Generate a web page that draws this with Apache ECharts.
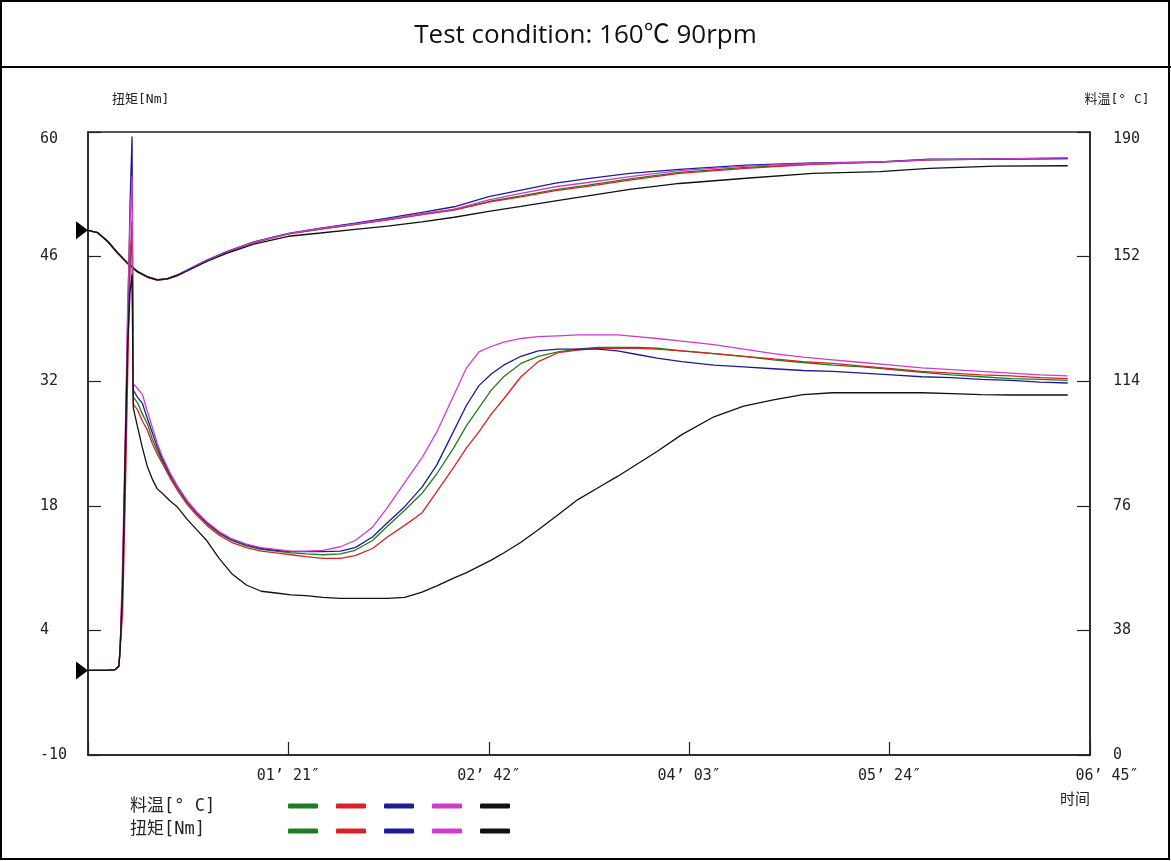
<!DOCTYPE html>
<html><head><meta charset="utf-8">
<script src="https://cdn.jsdelivr.net/npm/echarts@6/dist/echarts.min.js"></script>
<style>html,body{margin:0;padding:0;background:#fff}#c{width:1171px;height:861px}</style>
</head><body><div id="c"></div><script>
// ---------- data ----------
const timeLabels = ['', '01’ 21″', '02’ 42″', '04’ 03″', '05’ 24″', '06’ 45″'];
const torqueTicks = [-10, 4, 18, 32, 46, 60];
const tempTicks = [0, 38, 76, 114, 152, 190];

// torque sampling times (s)
const tTorque = [0, 8, 11, 12.5, 13, 14, 15, 16, 17, 17.8, 18.3, 18.8, 20, 22, 24, 26, 28, 30, 33, 36, 40, 44, 48, 53, 58, 64, 70, 76, 82, 88, 95, 102, 108, 115, 121, 128, 135, 141, 148, 153, 158, 163, 168, 175, 182, 190, 198, 206, 214, 222, 230, 240, 253, 265, 277, 289, 301, 313, 325, 337, 349, 361, 373, 385, 396];
const torqueGreen = [-0.5,-0.5,-0.4,0.0,2.0, 8,20,35,45,48, 30.2,30.0,29.6,28.3,27.2, 25.5,24.2,23.0,21.4,20.0, 18.4,17.1,16.0,14.9,14.1, 13.5,13.1,12.9,12.7,12.6, 12.5,12.6,13.0,14.1,15.7, 17.5,19.4,21.6,24.6,27.0, 29.0,31.0,32.5,34.0,34.8, 35.3,35.6,35.8,35.8,35.8, 35.7,35.4,35.1,34.8,34.4, 34.1,33.8,33.6,33.3,33.0, 32.7,32.5,32.3,32.2,32.1];
const torqueRed = [-0.5,-0.5,-0.4,0.0,2.0, 6,18,32,46,50, 29.5,29.2,28.8,27.5,26.5, 25.0,23.8,22.8,21.2,19.8, 18.2,16.9,15.8,14.7,13.9, 13.3,12.9,12.7,12.5,12.3, 12.1,12.1,12.4,13.2,14.5, 15.8,17.2,19.6,22.4,24.5, 26.3,28.3,30.0,32.5,34.2, 35.2,35.5,35.7,35.7,35.7, 35.6,35.4,35.1,34.8,34.5, 34.2,34.0,33.7,33.4,33.1, 32.9,32.7,32.6,32.4,32.3];
const torqueBlue = [-0.5,-0.5,-0.4,0.0,2.0, 10,22,38,52,59.5, 31.0,30.8,30.2,29.5,27.8, 26.2,24.6,23.3,21.6,20.2, 18.5,17.2,16.1,15.0,14.2, 13.6,13.2,13.0,12.85,12.85, 12.85,12.9,13.3,14.5,16.1, 17.9,20.1,22.6,26.5,29.3, 31.5,32.8,33.8,34.8,35.4, 35.6,35.6,35.6,35.4,35.0, 34.6,34.2,33.8,33.6,33.4, 33.2,33.1,32.9,32.7,32.5, 32.4,32.2,32.1,31.9,31.8];
const torqueMagenta = [-0.5,-0.5,-0.4,0.0,2.0, 12,25,40,50,55, 31.7,31.5,31.2,30.5,28.6, 26.8,25.0,23.6,21.8,20.3, 18.6,17.3,16.2,15.1,14.3, 13.7,13.3,13.1,12.9,12.9, 13.0,13.4,14.1,15.6,17.8, 20.6,23.4,26.3,30.5,33.5, 35.3,35.9,36.4,36.8,37.0, 37.1,37.2,37.2,37.2,37.0, 36.8,36.5,36.1,35.6,35.1, 34.7,34.4,34.1,33.8,33.5, 33.3,33.1,32.9,32.7,32.6];
const torqueBlack = [-0.5,-0.5,-0.4,0.0,2.0, 9,24,36,42,44, 29.0,28.8,26.9,24.5,22.4, 21.0,19.9,19.4,18.6,17.9, 16.5,15.3,14.1,12.1,10.4, 9.1,8.4,8.2,8.0,7.9, 7.7,7.6,7.6,7.6,7.6, 7.7,8.3,9.0,9.9,10.5, 11.2,11.9,12.7,13.9,15.3, 17.0,18.7,20.0,21.3,22.7, 24.1,26.0,28.0,29.2,29.9, 30.5,30.7,30.7,30.7,30.7, 30.6,30.5,30.45,30.45,30.45];

// temperature sampling times (s)
const tTemp = [0, 4, 8, 12, 16, 20, 24, 28, 32, 36, 40, 48, 56, 67, 81, 94, 108, 121, 135, 148, 162, 175, 189, 202, 219, 239, 266, 293, 320, 340, 367, 396];
const tempGreen = [160.0,159.2,156.5,153.0,149.9,147.3,145.7,144.8,145.1,146.2,147.7,150.7,153.3,156.3,158.9,160.4,161.8,163.2,164.9,166.3,168.8,170.5,172.4,173.8,175.7,177.7,179.2,180.2,180.8,181.5,181.7,181.9];
const tempRed = [160.0,159.2,156.5,153.0,149.9,147.3,145.7,144.8,145.1,146.2,147.7,150.7,153.3,156.3,158.9,160.4,161.8,163.2,164.8,166.2,168.6,170.2,172.1,173.4,175.3,177.4,178.9,180.1,180.8,181.5,181.7,181.9];
const tempBlue = [160.0,159.3,156.7,153.2,150.1,147.5,145.9,145.0,145.3,146.4,147.9,150.9,153.5,156.5,159.1,160.7,162.2,163.7,165.5,167.2,170.3,172.3,174.4,175.8,177.4,178.6,179.9,180.6,180.9,181.7,181.8,182.0];
const tempMagenta = [160.0,159.3,156.6,153.1,150.0,147.4,145.8,144.9,145.2,146.3,147.8,150.8,153.4,156.4,159.0,160.6,162.0,163.4,165.1,166.5,169.3,171.3,173.3,174.6,176.4,178.2,179.6,180.4,180.9,181.6,181.8,182.1];
const tempBlack = [160.0,159.3,156.6,153.1,150.0,147.4,145.8,144.9,145.2,146.2,147.6,150.5,153.0,155.8,158.2,159.2,160.3,161.3,162.6,164.0,165.8,167.3,169.0,170.5,172.5,174.3,175.9,177.4,177.9,178.9,179.6,179.7];

const tempNames = ['料温1', '料温2', '料温3', '料温4', '料温5'];
const torqueNames = ['扭矩1', '扭矩2', '扭矩3', '扭矩4', '扭矩5'];

// ---------- style ----------
const COLORS = ['#1f7d1f', '#d62424', '#1c1c96', '#cc3dcc', '#111111'];
const MONO = "'DejaVu Sans Mono','Noto Sans CJK SC',monospace";
const TXT = '#222';

const torqueVals = [torqueGreen, torqueRed, torqueBlue, torqueMagenta, torqueBlack];
const tempVals = [tempGreen, tempRed, tempBlue, tempMagenta, tempBlack];

const triangle = 'path://M0,0L12,9L0,18Z';
function mk(name, t, v, color, yIdx, extra) {
  return Object.assign({
    type: 'line', name, yAxisIndex: yIdx,
    data: t.map((x, i) => [x, v[i]]),
    showSymbol: false, symbol: 'none',
    lineStyle: { color, width: 1.3 }, itemStyle: { color },
    emphasis: { disabled: true }, silent: true
  }, extra || {});
}
function startMark(x, y) {
  return { markPoint: { symbol: triangle, symbolSize: [12, 18], symbolOffset: [-6, 0], itemStyle: { color: '#000' }, label: { show: false }, silent: true, data: [{ coord: [x, y] }] } };
}
const series = [];
tempVals.forEach((v, i) => {
  series.push(mk(tempNames[i], tTemp, v, COLORS[i], 1, i === 4 ? startMark(tTemp[0], v[0]) : null));
});
torqueVals.forEach((v, i) => {
  series.push(mk(torqueNames[i], tTorque, v, COLORS[i], 0, i === 4 ? startMark(tTorque[0], v[0]) : null));
});

const axisLine = { show: true, onZero: false, lineStyle: { color: TXT, width: 1.5 } };
const axisTick = { show: true, inside: true, length: 13, lineStyle: { color: TXT, width: 1.2 } };
const legendBase = {
  left: 283, itemWidth: 30, itemHeight: 5, itemGap: 18, icon: 'roundRect',
  formatter: () => '', selectedMode: false, textStyle: { fontSize: 1 }
};

const option = {
  animation: false,
  backgroundColor: '#fff',
  title: {
    text: 'Test condition: 160℃ 90rpm', left: 'center', top: 18,
    textStyle: { fontFamily: "'Open Sans','Noto Sans CJK SC'", fontSize: 26, fontWeight: 'normal', color: '#111' }
  },
  grid: { left: 88, right: 81, top: 132, bottom: 106, show: true, borderColor: TXT, borderWidth: 1.5, backgroundColor: 'transparent' },
  xAxis: {
    type: 'value', min: 0, max: 405, interval: 81,
    axisLine, axisTick, splitLine: { show: false },
    axisLabel: {
      margin: 14, fontFamily: MONO, fontSize: 15, color: TXT,
      formatter: v => { const i = Math.round(v / 81); return i === 5 ? '{e|' + timeLabels[i] + '}' : timeLabels[i]; },
      rich: { e: { padding: [0, 0, 0, 34], fontFamily: MONO, fontSize: 15, color: TXT } }
    },
    name: '时间', nameLocation: 'end', nameGap: -30,
    nameTextStyle: { align: 'left', verticalAlign: 'top', padding: [38, 0, 0, 0], fontFamily: MONO, fontSize: 15, color: TXT }
  },
  yAxis: [
    {
      type: 'value', position: 'left', min: torqueTicks[0], max: torqueTicks[5], interval: 14,
      axisLine, axisTick, splitLine: { show: false },
      axisLabel: { align: 'left', margin: 48, fontFamily: MONO, fontSize: 15, color: TXT, verticalAlignMaxLabel: 'top', formatter: v => String(v) },
      name: '扭矩[Nm]', nameLocation: 'end', nameGap: 26,
      nameTextStyle: { align: 'left', padding: [0, 0, 0, 24], fontFamily: MONO, fontSize: 13, color: TXT }
    },
    {
      type: 'value', position: 'right', min: tempTicks[0], max: tempTicks[5], interval: 38,
      axisLine, axisTick, splitLine: { show: false },
      axisLabel: { margin: 23, fontFamily: MONO, fontSize: 15, color: TXT, verticalAlignMaxLabel: 'top' },
      name: '料温[° C]', nameLocation: 'end', nameGap: 26,
      nameTextStyle: { align: 'center', padding: [0, 0, 0, 54], fontFamily: MONO, fontSize: 13, color: TXT }
    }
  ],
  legend: [
    Object.assign({}, legendBase, { data: tempNames, top: 798.5 }),
    Object.assign({}, legendBase, { data: torqueNames, top: 823.5 })
  ],
  graphic: [
    { type: 'rect', silent: true, shape: { x: 1, y: 1, width: 1168, height: 858 }, style: { fill: 'none', stroke: '#000', lineWidth: 2 } },
    { type: 'line', silent: true, shape: { x1: 0, y1: 67, x2: 1171, y2: 67 }, style: { stroke: '#000', lineWidth: 2 } },
    { type: 'text', left: 130, top: 798, style: { text: '料温[° C]', fontFamily: MONO, fontSize: 17, fill: TXT } },
    { type: 'text', left: 130, top: 821, style: { text: '扭矩[Nm]', fontFamily: MONO, fontSize: 17, fill: TXT } }
  ],
  series
};
const chart = echarts.init(document.getElementById('c'), null, { renderer: 'canvas' });
chart.setOption(option);
</script></body></html>
